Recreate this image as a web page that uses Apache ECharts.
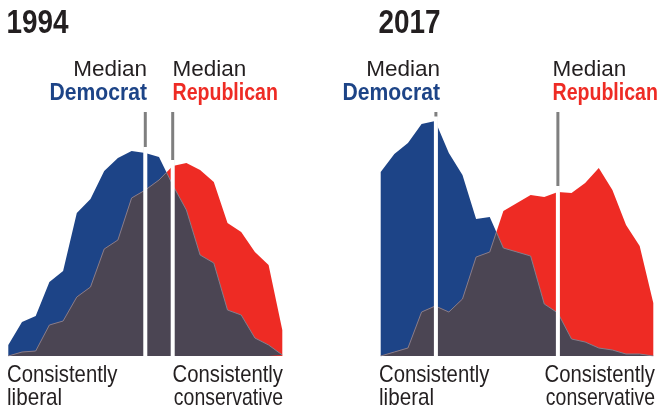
<!DOCTYPE html>
<html>
<head>
<meta charset="utf-8">
<script src="https://cdn.jsdelivr.net/npm/echarts@6/dist/echarts.min.js"></script>
<style>
html,body{margin:0;padding:0;background:#fff;}
#chart{width:664px;height:414px;}
</style>
</head>
<body>
<div id="chart"></div>
<script>
// ideology bins (consistently liberal -> consistently conservative)
const bins = [0,1,2,3,4,5,6,7,8,9,10,11,12,13,14,15,16,17,18,19,20];
// share of each party in each bin (relative heights)
const dem1994 = [11,34,40,74,85,143,157,185,198,205,203,199,171,146,101,93,46,41,18,11,1];
const rep1994 = [0,4,5,31,35,59,69,107,116,158,166,176,190,193,186,174,133,124,104,91,26];
const dem2017 = [184,202,213,232,235,203,181,137,139,108,104,100,52,43,17,14,8,6,2,2,0];
const rep2017 = [0,4,8,44,50,44,57,99,104,145,153,161,159,164,163,173,188,166,131,110,53];
// median positions [Democrat, Republican] on the bin scale
const median1994 = [10, 12];
const median2017 = [4.05, 13];
const medianLineTop = 244;
const years = ['1994', '2017'];

const BLUE = '#1d4487', RED = '#ee2b24', OVER = '#4b4553', MEDGRAY = '#7f7f7f', INK = '#231f20';
const SANS = "'Liberation Sans','Arial',sans-serif";

function pts(arr){ return bins.map((b,i)=>[b, arr[i]]); }
function overlap(a,b){
  const out=[];
  for(let i=0;i<bins.length;i++){
    out.push([bins[i], Math.min(a[i],b[i])]);
    if(i<bins.length-1){
      const d0=a[i]-b[i], d1=a[i+1]-b[i+1];
      if(d0*d1<0){
        const t=d0/(d0-d1);
        out.push([bins[i]+t*(bins[i+1]-bins[i]), a[i]+t*(a[i+1]-a[i])]);
      }
    }
  }
  return out;
}
function topAt(a,b,x){
  let i=Math.min(Math.floor(x), bins.length-2); const t=x-bins[i];
  const va=a[i]+t*(a[i+1]-a[i]), vb=b[i]+t*(b[i+1]-b[i]);
  return Math.max(va,vb);
}
function panelSeries(g, dem, rep, med){
  const s=[];
  med.forEach(m=>s.push({type:'line',xAxisIndex:g,yAxisIndex:g,data:[[m,0],[m,medianLineTop]],symbol:'none',silent:true,
    lineStyle:{color:MEDGRAY,width:3}}));
  s.push({type:'line',xAxisIndex:g,yAxisIndex:g,data:pts(dem),symbol:'none',lineStyle:{width:0},areaStyle:{color:BLUE,opacity:1}});
  s.push({type:'line',xAxisIndex:g,yAxisIndex:g,data:pts(rep),symbol:'none',lineStyle:{width:0},areaStyle:{color:RED,opacity:1}});
  s.push({type:'line',xAxisIndex:g,yAxisIndex:g,data:overlap(dem,rep),symbol:'none',lineStyle:{width:1,color:'#847e8c'},areaStyle:{color:OVER,opacity:1}});
  med.forEach(m=>s.push({type:'line',xAxisIndex:g,yAxisIndex:g,data:[[m,0],[m,topAt(dem,rep,m)+6]],symbol:'none',silent:true,
    lineStyle:{color:'#ffffff',width:4}}));
  return s;
}

const chart = echarts.init(document.getElementById('chart'), null, {renderer:'canvas'});
function txt(text,x,y,font,fill,align,sx){
  return {type:'text',x:x,y:y,scaleX:sx||1,silent:true,style:{text:text,font:font,fill:fill,align:align,verticalAlign:'middle'}};
}
const TITLE = "bold 34px "+SANS, MED = "22.5px "+SANS, PARTY = "bold 24px "+SANS, FOOT = "24px "+SANS;
const graphics = [
  txt(years[0], 6.5, 23.5, TITLE, INK, 'left', 0.82),
  txt(years[1], 378.5, 23.5, TITLE, INK, 'left', 0.82),
  txt('Median', 147, 70, MED, INK, 'right'),
  txt('Democrat', 147, 93.4, PARTY, BLUE, 'right', 0.88),
  txt('Median', 172.5, 70, MED, INK, 'left'),
  txt('Republican', 172.5, 93.4, PARTY, RED, 'left', 0.815),
  txt('Median', 440, 70, MED, INK, 'right'),
  txt('Democrat', 440, 93.4, PARTY, BLUE, 'right', 0.88),
  txt('Median', 552.5, 70, MED, INK, 'left'),
  txt('Republican', 552.5, 93.4, PARTY, RED, 'left', 0.815),
  txt('Consistently', 7, 375.7, FOOT, INK, 'left', 0.845),
  txt('liberal', 7, 398.4, FOOT, INK, 'left', 0.86),
  txt('Consistently', 283, 375.7, FOOT, INK, 'right', 0.845),
  txt('conservative', 283, 398.4, FOOT, INK, 'right', 0.81),
  txt('Consistently', 379, 375.7, FOOT, INK, 'left', 0.845),
  txt('liberal', 379, 398.4, FOOT, INK, 'left', 0.86),
  txt('Consistently', 655, 375.7, FOOT, INK, 'right', 0.845),
  txt('conservative', 655, 398.4, FOOT, INK, 'right', 0.81)
];

chart.setOption({
  animation:false,
  backgroundColor:'#ffffff',
  grid:[
    {left:8.3, width:274, top:56, height:300},
    {left:380.7, width:272.6, top:56, height:300}
  ],
  xAxis:[
    {gridIndex:0,type:'value',min:0,max:20,show:false},
    {gridIndex:1,type:'value',min:0,max:20,show:false}
  ],
  yAxis:[
    {gridIndex:0,type:'value',min:0,max:300,show:false},
    {gridIndex:1,type:'value',min:0,max:300,show:false}
  ],
  series:[].concat(panelSeries(0,dem1994,rep1994,median1994), panelSeries(1,dem2017,rep2017,median2017)),
  graphic:graphics
});
</script>
</body>
</html>
